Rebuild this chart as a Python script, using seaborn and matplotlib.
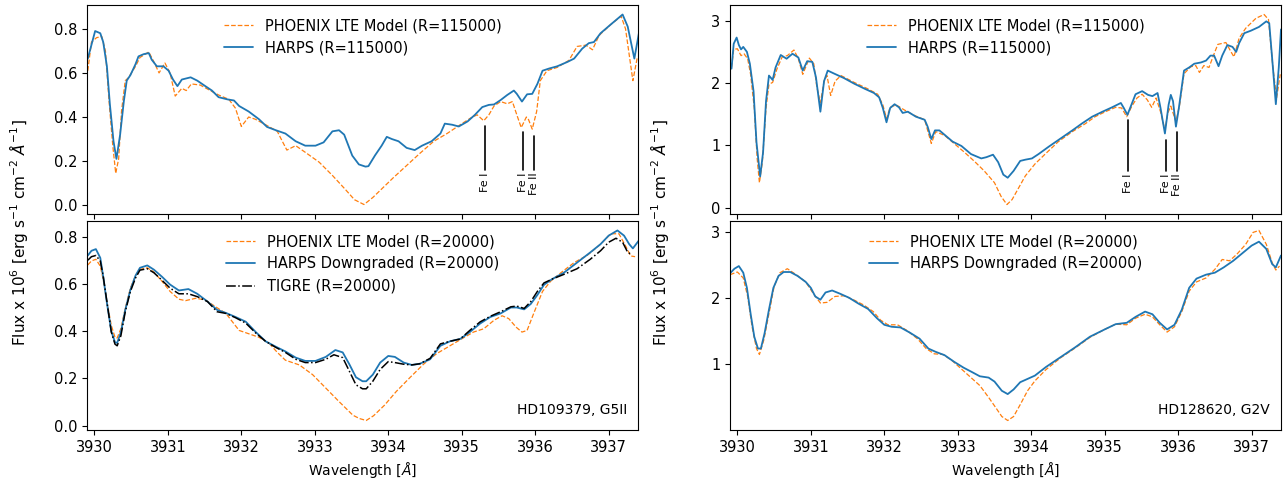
import numpy as np
import matplotlib
matplotlib.use("Agg")
import matplotlib.pyplot as plt
import seaborn as sns

# Ca II K region, HD109379 (left) and HD128620 (right)
# each series: (wavelength [A], flux x 1e6)
hd109_hr_model = [(3929.91, 0.61), (3929.96, 0.74), (3930.03, 0.76), (3930.10, 0.765), (3930.15, 0.70),
                  (3930.20, 0.47), (3930.25, 0.27), (3930.29, 0.145), (3930.33, 0.21), (3930.37, 0.43),
                  (3930.42, 0.565), (3930.46, 0.577), (3930.56, 0.63), (3930.62, 0.67), (3930.74, 0.695),
                  (3930.81, 0.65), (3930.88, 0.60), (3930.96, 0.645), (3931.03, 0.60), (3931.10, 0.495),
                  (3931.19, 0.53), (3931.25, 0.52), (3931.32, 0.55), (3931.44, 0.545), (3931.55, 0.525),
                  (3931.69, 0.50), (3931.83, 0.48), (3931.92, 0.44), (3932.00, 0.357), (3932.10, 0.40),
                  (3932.19, 0.39), (3932.33, 0.365), (3932.49, 0.335), (3932.55, 0.295), (3932.62, 0.25),
                  (3932.74, 0.27), (3932.87, 0.24), (3933.06, 0.195), (3933.24, 0.135), (3933.42, 0.07),
                  (3933.54, 0.025), (3933.67, 0.003), (3933.79, 0.035), (3933.93, 0.08), (3934.07, 0.125),
                  (3934.25, 0.18), (3934.43, 0.235), (3934.62, 0.29), (3934.80, 0.325), (3934.98, 0.365),
                  (3935.12, 0.395), (3935.21, 0.41), (3935.30, 0.383), (3935.37, 0.41), (3935.44, 0.45),
                  (3935.53, 0.47), (3935.62, 0.46), (3935.69, 0.47), (3935.75, 0.41), (3935.81, 0.352),
                  (3935.88, 0.40), (3935.91, 0.388), (3935.96, 0.345), (3936.02, 0.425), (3936.07, 0.565),
                  (3936.16, 0.61), (3936.30, 0.625), (3936.46, 0.657), (3936.57, 0.72), (3936.69, 0.726),
                  (3936.78, 0.705), (3936.87, 0.77), (3937.03, 0.82), (3937.17, 0.857), (3937.23, 0.80),
                  (3937.33, 0.565), (3937.39, 0.67)]

hd109_hr_harps = [(3929.91, 0.665), (3930.01, 0.79), (3930.08, 0.78), (3930.12, 0.74), (3930.17, 0.63),
                  (3930.21, 0.46), (3930.26, 0.29), (3930.30, 0.21), (3930.35, 0.32), (3930.40, 0.47),
                  (3930.44, 0.565), (3930.49, 0.59), (3930.56, 0.64), (3930.60, 0.675), (3930.67, 0.685),
                  (3930.74, 0.69), (3930.78, 0.66), (3930.85, 0.63), (3930.94, 0.63), (3931.01, 0.61),
                  (3931.07, 0.57), (3931.13, 0.54), (3931.19, 0.57), (3931.31, 0.58), (3931.40, 0.565),
                  (3931.51, 0.54), (3931.60, 0.52), (3931.69, 0.49), (3931.81, 0.48), (3931.90, 0.475),
                  (3931.97, 0.45), (3932.10, 0.425), (3932.24, 0.39), (3932.35, 0.355), (3932.47, 0.34),
                  (3932.60, 0.325), (3932.74, 0.29), (3932.87, 0.27), (3933.01, 0.27), (3933.12, 0.285),
                  (3933.24, 0.335), (3933.33, 0.34), (3933.40, 0.32), (3933.51, 0.225), (3933.60, 0.185),
                  (3933.69, 0.175), (3933.73, 0.177), (3933.82, 0.226), (3933.91, 0.27), (3933.98, 0.31),
                  (3934.05, 0.30), (3934.14, 0.29), (3934.25, 0.26), (3934.36, 0.25), (3934.46, 0.27),
                  (3934.59, 0.29), (3934.71, 0.325), (3934.77, 0.37), (3934.87, 0.365), (3934.96, 0.357),
                  (3935.08, 0.38), (3935.18, 0.41), (3935.28, 0.445), (3935.37, 0.455), (3935.44, 0.457),
                  (3935.53, 0.477), (3935.62, 0.50), (3935.71, 0.52), (3935.75, 0.505), (3935.82, 0.47),
                  (3935.89, 0.503), (3935.96, 0.505), (3936.03, 0.55), (3936.10, 0.61), (3936.19, 0.62),
                  (3936.30, 0.63), (3936.44, 0.65), (3936.53, 0.665), (3936.64, 0.71), (3936.73, 0.735),
                  (3936.80, 0.74), (3936.89, 0.78), (3937.03, 0.82), (3937.19, 0.865), (3937.26, 0.81),
                  (3937.35, 0.665), (3937.42, 0.795)]

hd109_lr_model = [(3929.91, 0.68), (3929.96, 0.697), (3930.02, 0.704), (3930.08, 0.675), (3930.12, 0.618),
                  (3930.17, 0.525), (3930.23, 0.424), (3930.28, 0.374), (3930.31, 0.371), (3930.36, 0.41),
                  (3930.42, 0.496), (3930.49, 0.582), (3930.56, 0.635), (3930.62, 0.661), (3930.72, 0.668),
                  (3930.81, 0.65), (3930.92, 0.611), (3931.03, 0.568), (3931.15, 0.535), (3931.24, 0.529),
                  (3931.38, 0.539), (3931.51, 0.532), (3931.65, 0.503), (3931.79, 0.475), (3931.88, 0.439),
                  (3931.97, 0.403), (3932.10, 0.389), (3932.24, 0.374), (3932.38, 0.348), (3932.49, 0.31),
                  (3932.60, 0.277), (3932.79, 0.257), (3932.97, 0.216), (3933.15, 0.159), (3933.33, 0.102),
                  (3933.52, 0.044), (3933.61, 0.03), (3933.70, 0.022), (3933.80, 0.042), (3933.95, 0.087),
                  (3934.11, 0.145), (3934.30, 0.205), (3934.48, 0.26), (3934.66, 0.305), (3934.84, 0.338),
                  (3935.02, 0.371), (3935.16, 0.396), (3935.30, 0.41), (3935.44, 0.446), (3935.55, 0.465),
                  (3935.64, 0.453), (3935.74, 0.417), (3935.82, 0.396), (3935.89, 0.403), (3935.98, 0.475),
                  (3936.10, 0.568), (3936.21, 0.611), (3936.35, 0.647), (3936.53, 0.69), (3936.71, 0.721),
                  (3936.89, 0.768), (3937.03, 0.812), (3937.14, 0.812), (3937.23, 0.761), (3937.30, 0.718),
                  (3937.36, 0.715)]

hd109_lr_harps = [(3929.91, 0.72), (3929.96, 0.74), (3930.02, 0.747), (3930.08, 0.71), (3930.12, 0.63),
                  (3930.17, 0.52), (3930.23, 0.40), (3930.28, 0.353), (3930.31, 0.35), (3930.36, 0.395),
                  (3930.42, 0.49), (3930.49, 0.575), (3930.56, 0.635), (3930.62, 0.668), (3930.72, 0.678),
                  (3930.81, 0.66), (3930.92, 0.63), (3931.03, 0.597), (3931.15, 0.572), (3931.28, 0.578),
                  (3931.40, 0.558), (3931.54, 0.525), (3931.67, 0.49), (3931.79, 0.477), (3931.92, 0.46),
                  (3932.06, 0.44), (3932.20, 0.395), (3932.33, 0.357), (3932.47, 0.334), (3932.60, 0.314),
                  (3932.74, 0.288), (3932.87, 0.274), (3933.01, 0.274), (3933.15, 0.291), (3933.28, 0.32),
                  (3933.38, 0.31), (3933.47, 0.26), (3933.56, 0.205), (3933.65, 0.188), (3933.70, 0.188),
                  (3933.79, 0.216), (3933.89, 0.267), (3934.00, 0.295), (3934.09, 0.291), (3934.21, 0.267),
                  (3934.32, 0.257), (3934.43, 0.262), (3934.57, 0.281), (3934.71, 0.338), (3934.84, 0.357),
                  (3934.98, 0.367), (3935.11, 0.396), (3935.25, 0.432), (3935.39, 0.46), (3935.53, 0.475),
                  (3935.67, 0.50), (3935.75, 0.50), (3935.85, 0.492), (3935.94, 0.515), (3936.03, 0.553),
                  (3936.12, 0.596), (3936.23, 0.62), (3936.39, 0.647), (3936.57, 0.69), (3936.75, 0.733),
                  (3936.89, 0.768), (3937.00, 0.804), (3937.12, 0.826), (3937.21, 0.804), (3937.28, 0.768),
                  (3937.33, 0.75), (3937.42, 0.787)]

hd109_lr_tigre = [(3929.91, 0.70), (3929.96, 0.715), (3930.02, 0.72), (3930.08, 0.697), (3930.12, 0.632),
                  (3930.17, 0.525), (3930.23, 0.396), (3930.28, 0.345), (3930.31, 0.338), (3930.36, 0.38),
                  (3930.42, 0.482), (3930.49, 0.568), (3930.56, 0.625), (3930.62, 0.658), (3930.72, 0.664),
                  (3930.81, 0.647), (3930.92, 0.615), (3931.03, 0.582), (3931.15, 0.558), (3931.28, 0.558),
                  (3931.40, 0.546), (3931.54, 0.525), (3931.67, 0.482), (3931.79, 0.475), (3931.92, 0.457),
                  (3932.06, 0.434), (3932.20, 0.391), (3932.33, 0.357), (3932.47, 0.331), (3932.60, 0.31),
                  (3932.74, 0.281), (3932.87, 0.267), (3933.01, 0.267), (3933.15, 0.281), (3933.26, 0.30),
                  (3933.38, 0.288), (3933.47, 0.231), (3933.56, 0.173), (3933.65, 0.156), (3933.70, 0.156),
                  (3933.79, 0.188), (3933.89, 0.238), (3934.00, 0.271), (3934.09, 0.267), (3934.21, 0.26),
                  (3934.32, 0.257), (3934.43, 0.262), (3934.57, 0.285), (3934.71, 0.346), (3934.84, 0.357),
                  (3934.98, 0.367), (3935.11, 0.403), (3935.25, 0.439), (3935.39, 0.463), (3935.53, 0.482),
                  (3935.67, 0.503), (3935.75, 0.506), (3935.85, 0.496), (3935.94, 0.525), (3936.03, 0.568),
                  (3936.12, 0.604), (3936.23, 0.62), (3936.39, 0.64), (3936.57, 0.664), (3936.75, 0.704),
                  (3936.89, 0.74), (3937.00, 0.776), (3937.10, 0.793), (3937.19, 0.776), (3937.26, 0.733),
                  (3937.31, 0.725)]

hd128_hr_model = [(3929.92, 2.25), (3929.95, 2.54), (3930.00, 2.55), (3930.05, 2.44), (3930.09, 2.47),
                  (3930.14, 2.39), (3930.18, 2.14), (3930.23, 1.60), (3930.27, 0.78), (3930.30, 0.40),
                  (3930.34, 0.73), (3930.39, 1.60), (3930.43, 1.98), (3930.48, 2.01), (3930.54, 2.23),
                  (3930.61, 2.42), (3930.68, 2.44), (3930.77, 2.53), (3930.83, 2.39), (3930.89, 2.14),
                  (3930.98, 2.40), (3931.04, 2.31), (3931.08, 1.95), (3931.13, 1.68), (3931.18, 2.03),
                  (3931.22, 2.12), (3931.27, 1.80), (3931.33, 2.03), (3931.41, 2.12), (3931.59, 2.01),
                  (3931.77, 1.91), (3931.91, 1.82), (3931.98, 1.65), (3932.03, 1.43), (3932.08, 1.61),
                  (3932.16, 1.65), (3932.27, 1.57), (3932.41, 1.48), (3932.55, 1.41), (3932.59, 1.24),
                  (3932.64, 1.03), (3932.70, 1.22), (3932.82, 1.16), (3932.95, 1.03), (3933.09, 0.89),
                  (3933.23, 0.74), (3933.36, 0.59), (3933.50, 0.40), (3933.59, 0.18), (3933.67, 0.05),
                  (3933.74, 0.13), (3933.83, 0.32), (3933.92, 0.51), (3934.05, 0.70), (3934.19, 0.86),
                  (3934.37, 1.06), (3934.56, 1.22), (3934.74, 1.35), (3934.87, 1.46), (3935.01, 1.54),
                  (3935.15, 1.61), (3935.23, 1.60), (3935.30, 1.46), (3935.37, 1.63), (3935.44, 1.76),
                  (3935.51, 1.82), (3935.58, 1.73), (3935.64, 1.61), (3935.70, 1.76), (3935.76, 1.54),
                  (3935.82, 1.24), (3935.86, 1.52), (3935.90, 1.63), (3935.97, 1.38), (3936.02, 1.65),
                  (3936.08, 2.15), (3936.17, 2.26), (3936.24, 2.28), (3936.29, 2.17), (3936.35, 2.28),
                  (3936.42, 2.25), (3936.48, 2.44), (3936.54, 2.62), (3936.65, 2.65), (3936.72, 2.50),
                  (3936.76, 2.42), (3936.83, 2.72), (3936.92, 2.88), (3937.06, 3.04), (3937.17, 3.10),
                  (3937.23, 3.02), (3937.29, 2.25), (3937.34, 1.76), (3937.39, 2.14)]

hd128_hr_harps = [(3929.92, 2.23), (3929.95, 2.63), (3929.99, 2.73), (3930.02, 2.61), (3930.05, 2.54),
                  (3930.08, 2.58), (3930.13, 2.50), (3930.17, 2.31), (3930.22, 1.87), (3930.26, 1.05),
                  (3930.31, 0.50), (3930.35, 0.89), (3930.39, 1.71), (3930.43, 2.12), (3930.48, 2.05),
                  (3930.52, 2.25), (3930.59, 2.45), (3930.67, 2.39), (3930.75, 2.47), (3930.83, 2.41),
                  (3930.89, 2.20), (3930.95, 2.35), (3931.02, 2.34), (3931.07, 2.09), (3931.13, 1.54),
                  (3931.18, 2.03), (3931.23, 2.20), (3931.32, 2.15), (3931.45, 2.08), (3931.59, 1.99),
                  (3931.73, 1.91), (3931.86, 1.84), (3931.93, 1.77), (3931.98, 1.60), (3932.03, 1.37),
                  (3932.08, 1.60), (3932.14, 1.66), (3932.20, 1.61), (3932.25, 1.52), (3932.32, 1.54),
                  (3932.43, 1.46), (3932.55, 1.41), (3932.59, 1.30), (3932.64, 1.10), (3932.69, 1.24),
                  (3932.75, 1.24), (3932.82, 1.17), (3932.93, 1.06), (3933.05, 0.99), (3933.18, 0.86),
                  (3933.32, 0.79), (3933.39, 0.81), (3933.48, 0.85), (3933.55, 0.73), (3933.62, 0.53),
                  (3933.68, 0.48), (3933.76, 0.59), (3933.85, 0.75), (3933.92, 0.77), (3934.01, 0.79),
                  (3934.10, 0.86), (3934.24, 0.98), (3934.40, 1.11), (3934.56, 1.24), (3934.69, 1.35),
                  (3934.83, 1.46), (3934.97, 1.54), (3935.10, 1.61), (3935.22, 1.68), (3935.26, 1.60),
                  (3935.31, 1.49), (3935.35, 1.61), (3935.42, 1.82), (3935.51, 1.87), (3935.59, 1.81),
                  (3935.65, 1.79), (3935.72, 1.84), (3935.76, 1.60), (3935.82, 1.19), (3935.87, 1.65),
                  (3935.90, 1.81), (3935.93, 1.71), (3935.97, 1.30), (3936.01, 1.60), (3936.08, 2.20),
                  (3936.15, 2.25), (3936.22, 2.31), (3936.31, 2.33), (3936.38, 2.36), (3936.44, 2.44),
                  (3936.49, 2.44), (3936.55, 2.27), (3936.60, 2.44), (3936.67, 2.61), (3936.74, 2.58),
                  (3936.79, 2.50), (3936.83, 2.64), (3936.90, 2.80), (3936.99, 2.84), (3937.10, 2.90),
                  (3937.20, 2.99), (3937.24, 2.96), (3937.29, 2.25), (3937.33, 1.66), (3937.37, 2.25),
                  (3937.40, 2.86)]

hd128_lr_model = [(3929.90, 2.36), (3930.00, 2.40), (3930.08, 2.31), (3930.14, 2.03), (3930.20, 1.57),
                  (3930.26, 1.24), (3930.30, 1.15), (3930.36, 1.37), (3930.43, 1.77), (3930.50, 2.18),
                  (3930.58, 2.39), (3930.68, 2.45), (3930.80, 2.36), (3930.93, 2.25), (3931.03, 2.08),
                  (3931.13, 1.93), (3931.22, 1.94), (3931.33, 2.03), (3931.45, 2.04), (3931.58, 1.98),
                  (3931.72, 1.90), (3931.85, 1.80), (3931.95, 1.67), (3932.05, 1.60), (3932.18, 1.60),
                  (3932.30, 1.52), (3932.45, 1.39), (3932.57, 1.24), (3932.68, 1.16), (3932.80, 1.15),
                  (3932.92, 1.06), (3933.05, 0.93), (3933.18, 0.80), (3933.30, 0.68), (3933.42, 0.50),
                  (3933.52, 0.34), (3933.60, 0.21), (3933.68, 0.15), (3933.76, 0.21), (3933.85, 0.39),
                  (3933.95, 0.60), (3934.05, 0.75), (3934.20, 0.92), (3934.40, 1.10), (3934.60, 1.25),
                  (3934.80, 1.41), (3935.00, 1.53), (3935.15, 1.61), (3935.30, 1.60), (3935.42, 1.70),
                  (3935.55, 1.76), (3935.65, 1.72), (3935.75, 1.60), (3935.85, 1.49), (3935.95, 1.57),
                  (3936.05, 1.80), (3936.15, 2.11), (3936.25, 2.25), (3936.38, 2.31), (3936.50, 2.44),
                  (3936.60, 2.59), (3936.70, 2.57), (3936.80, 2.67), (3936.92, 2.82), (3937.02, 3.00),
                  (3937.10, 3.03), (3937.20, 2.82), (3937.28, 2.54), (3937.33, 2.43), (3937.38, 2.49)]

hd128_lr_harps = [(3929.90, 2.38), (3929.96, 2.45), (3930.02, 2.49), (3930.08, 2.39), (3930.13, 2.16),
                  (3930.18, 1.77), (3930.23, 1.42), (3930.28, 1.24), (3930.32, 1.24), (3930.37, 1.47),
                  (3930.43, 1.83), (3930.49, 2.16), (3930.56, 2.34), (3930.63, 2.40), (3930.72, 2.40),
                  (3930.82, 2.34), (3930.93, 2.25), (3931.00, 2.16), (3931.06, 2.03), (3931.13, 1.98),
                  (3931.20, 2.09), (3931.29, 2.12), (3931.40, 2.07), (3931.52, 2.01), (3931.65, 1.92),
                  (3931.78, 1.84), (3931.90, 1.70), (3932.00, 1.60), (3932.10, 1.57), (3932.22, 1.56),
                  (3932.35, 1.48), (3932.48, 1.39), (3932.60, 1.24), (3932.70, 1.19), (3932.82, 1.14),
                  (3932.95, 1.04), (3933.08, 0.95), (3933.20, 0.88), (3933.30, 0.82), (3933.42, 0.80),
                  (3933.50, 0.74), (3933.60, 0.60), (3933.68, 0.55), (3933.76, 0.62), (3933.85, 0.73),
                  (3933.95, 0.78), (3934.05, 0.83), (3934.20, 0.96), (3934.40, 1.11), (3934.60, 1.26),
                  (3934.80, 1.42), (3935.00, 1.53), (3935.15, 1.61), (3935.30, 1.63), (3935.42, 1.72),
                  (3935.55, 1.80), (3935.65, 1.76), (3935.75, 1.63), (3935.85, 1.53), (3935.95, 1.60),
                  (3936.05, 1.83), (3936.15, 2.16), (3936.25, 2.30), (3936.38, 2.36), (3936.50, 2.39),
                  (3936.62, 2.47), (3936.75, 2.57), (3936.88, 2.69), (3937.00, 2.80), (3937.10, 2.86),
                  (3937.20, 2.75), (3937.28, 2.52), (3937.33, 2.47), (3937.40, 2.65)]

# line ids: wavelength, top of the marker (left star, right star)
fe_lines = ["Fe I", "Fe I", "Fe II"]
fe_wave = [3935.32, 3935.83, 3935.99]
fe_top_109 = [0.36, 0.33, 0.315]
fe_top_128 = [1.41, 1.09, 1.22]
fe_bottom = {"109": 0.16, "128": 0.59}

blue = "#1f77b4"
orange = "#ff7f0e"

sns.set_style("ticks")
plt.rcParams["font.family"] = ["DejaVu Sans"]
plt.rcParams["axes.edgecolor"] = "black"
plt.rcParams["text.color"] = "black"
plt.rcParams["xtick.color"] = "black"
plt.rcParams["ytick.color"] = "black"
plt.rcParams["axes.labelcolor"] = "black"

fig, axes = plt.subplots(2, 2, figsize=(12.86, 4.8), dpi=100, sharex="col")
fig.subplots_adjust(left=0.0677, right=0.9961, top=0.9896, bottom=0.1042,
                    wspace=0.167, hspace=0.033)


def draw(ax, series, color, ls, lw, label):
    wl, fl = zip(*series)
    sns.lineplot(x=list(wl), y=list(fl), ax=ax, color=color, linestyle=ls,
                 lw=lw, label=label, sort=False)


def mark_lines(ax, tops, bottom, pad):
    for name, w, t in zip(fe_lines, fe_wave, tops):
        ax.plot([w, w], [bottom, t], color="black", lw=1.2)
        ax.text(w, bottom - pad, name, rotation=90, ha="center", va="top", fontsize=8)


# HD109379
ax = axes[0, 0]
draw(ax, hd109_hr_model, orange, "--", 0.9, "PHOENIX LTE Model (R=115000)")
draw(ax, hd109_hr_harps, blue, "-", 1.3, "HARPS (R=115000)")
mark_lines(ax, fe_top_109, fe_bottom["109"], 0.01)
ax.set_yticks([0.0, 0.2, 0.4, 0.6, 0.8])

ax = axes[1, 0]
draw(ax, hd109_lr_model, orange, "--", 0.9, "PHOENIX LTE Model (R=20000)")
draw(ax, hd109_lr_harps, blue, "-", 1.3, "HARPS Downgraded (R=20000)")
draw(ax, hd109_lr_tigre, "black", "-.", 1.1, "TIGRE (R=20000)")
ax.set_yticks([0.0, 0.2, 0.4, 0.6, 0.8])
ax.text(0.98, 0.06, "HD109379, G5II", transform=ax.transAxes, ha="right", va="bottom", fontsize=10)

# HD128620
ax = axes[0, 1]
draw(ax, hd128_hr_model, orange, "--", 0.9, "PHOENIX LTE Model (R=115000)")
draw(ax, hd128_hr_harps, blue, "-", 1.3, "HARPS (R=115000)")
mark_lines(ax, fe_top_128, fe_bottom["128"], 0.04)
ax.set_yticks([0, 1, 2, 3])

ax = axes[1, 1]
draw(ax, hd128_lr_model, orange, "--", 0.9, "PHOENIX LTE Model (R=20000)")
draw(ax, hd128_lr_harps, blue, "-", 1.3, "HARPS Downgraded (R=20000)")
ax.set_yticks([1, 2, 3])
ax.text(0.98, 0.06, "HD128620, G2V", transform=ax.transAxes, ha="right", va="bottom", fontsize=10)

for ax in axes.flat:
    ax.set_xlim(3929.9, 3937.4)
    ax.legend(loc="upper center", frameon=False, fontsize=10.5)
    ax.tick_params(direction="out", length=3.5, width=0.8, labelsize=10.5)
    for s in ax.spines.values():
        s.set_linewidth(0.8)
    ax.set_ylabel("")
for ax in axes[1]:
    ax.set_xlabel(r"Wavelength [$\AA$]", fontsize=10)
    ax.set_xticks([3930, 3931, 3932, 3933, 3934, 3935, 3936, 3937])

ylab = r"Flux x 10$^6$ [erg s$^{-1}$ cm$^{-2}$ $\AA^{-1}$]"
fig.text(0.014, 0.515, ylab, rotation=90, va="center", ha="center", fontsize=11)
fig.text(0.513, 0.515, ylab, rotation=90, va="center", ha="center", fontsize=11)

fig.savefig("out.png", dpi=100)
